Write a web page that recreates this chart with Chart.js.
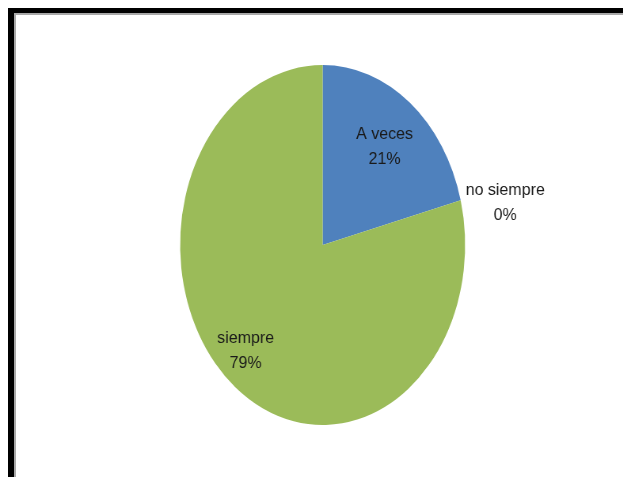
<!DOCTYPE html>
<html>
<head>
<meta charset="utf-8">
<script src="https://cdn.jsdelivr.net/npm/chart.js@4.4.1/dist/chart.umd.min.js"></script>
<style>
  html, body { margin: 0; padding: 0; background: #fff; overflow: hidden; }
  body { width: 623px; height: 477px; position: relative; }
  #frame-outer {
    position: absolute; left: 8px; top: 8px; right: -20px; bottom: -20px;
    border-top: 5px solid #000; border-left: 6px solid #000;
  }
  #frame-inner {
    position: absolute; left: 14px; top: 13px; right: -20px; bottom: -20px;
    border-top: 2px solid #a8a8a8; border-left: 2px solid #a8a8a8;
  }
  #wrap {
    position: absolute; left: 0; top: 0;
    transform-origin: 0 0;
  }
</style>
</head>
<body>
<div id="frame-outer"></div>
<div id="frame-inner"></div>
<div id="wrap"><canvas id="chart-pie"></canvas></div>
<script>
const categories = ['A veces', 'no siempre', 'siempre'];
const percents = [21, 0, 79];
const colors = ['#4F81BD', '#C0504D', '#9BBB59'];

// the original pie is an ellipse, so the canvas is drawn wide and squeezed
const SQUASH = 0.7917;
const W = Math.round(623 / SQUASH);
const H = 477;

const wrap = document.getElementById('wrap');
wrap.style.transform = `scaleX(${SQUASH})`;
const canvas = document.getElementById('chart-pie');
canvas.width = W;
canvas.height = H;
canvas.style.width = W + 'px';
canvas.style.height = H + 'px';

const sliceLabels = {
    id: 'sliceLabels',
    afterDatasetsDraw(chart, args, opts) {
        const ctx = chart.ctx;
        const meta = chart.getDatasetMeta(0);
        meta.data.forEach((arc, i) => {
            const mid = (arc.startAngle + arc.endAngle) / 2;
            const r = arc.outerRadius * opts.factors[i];
            const x = arc.x + Math.cos(mid) * r + (opts.dx[i] || 0);
            const y = arc.y + Math.sin(mid) * r + (opts.dy[i] || 0);
            ctx.save();
            ctx.translate(x, y);
            ctx.scale(1 / SQUASH, 1);
            ctx.fillStyle = '#1a1a1a';
            ctx.font = '16px "Liberation Sans", Arial, sans-serif';
            ctx.textAlign = 'center';
            ctx.textBaseline = 'middle';
            ctx.fillText(categories[i], 0, -12.5);
            ctx.fillText(percents[i] + '%', 0, 12.5);
            ctx.restore();
        });
    }
};

new Chart(canvas.getContext('2d'), {
    type: 'pie',
    data: {
        labels: categories,
        datasets: [{
            data: percents,
            backgroundColor: colors,
            borderWidth: 0
        }]
    },
    options: {
        responsive: false,
        animation: false,
        layout: {
            padding: { left: 227, right: W - 227 - 361, top: 65, bottom: 52 }
        },
        plugins: {
            legend: { display: false },
            tooltip: { enabled: false },
            sliceLabels: { factors: [0.70, 1.3, 0.8], dx: [1, 4, -9], dy: [2, 16, -8] }
        }
    },
    plugins: [sliceLabels]
});
</script>
</body>
</html>
